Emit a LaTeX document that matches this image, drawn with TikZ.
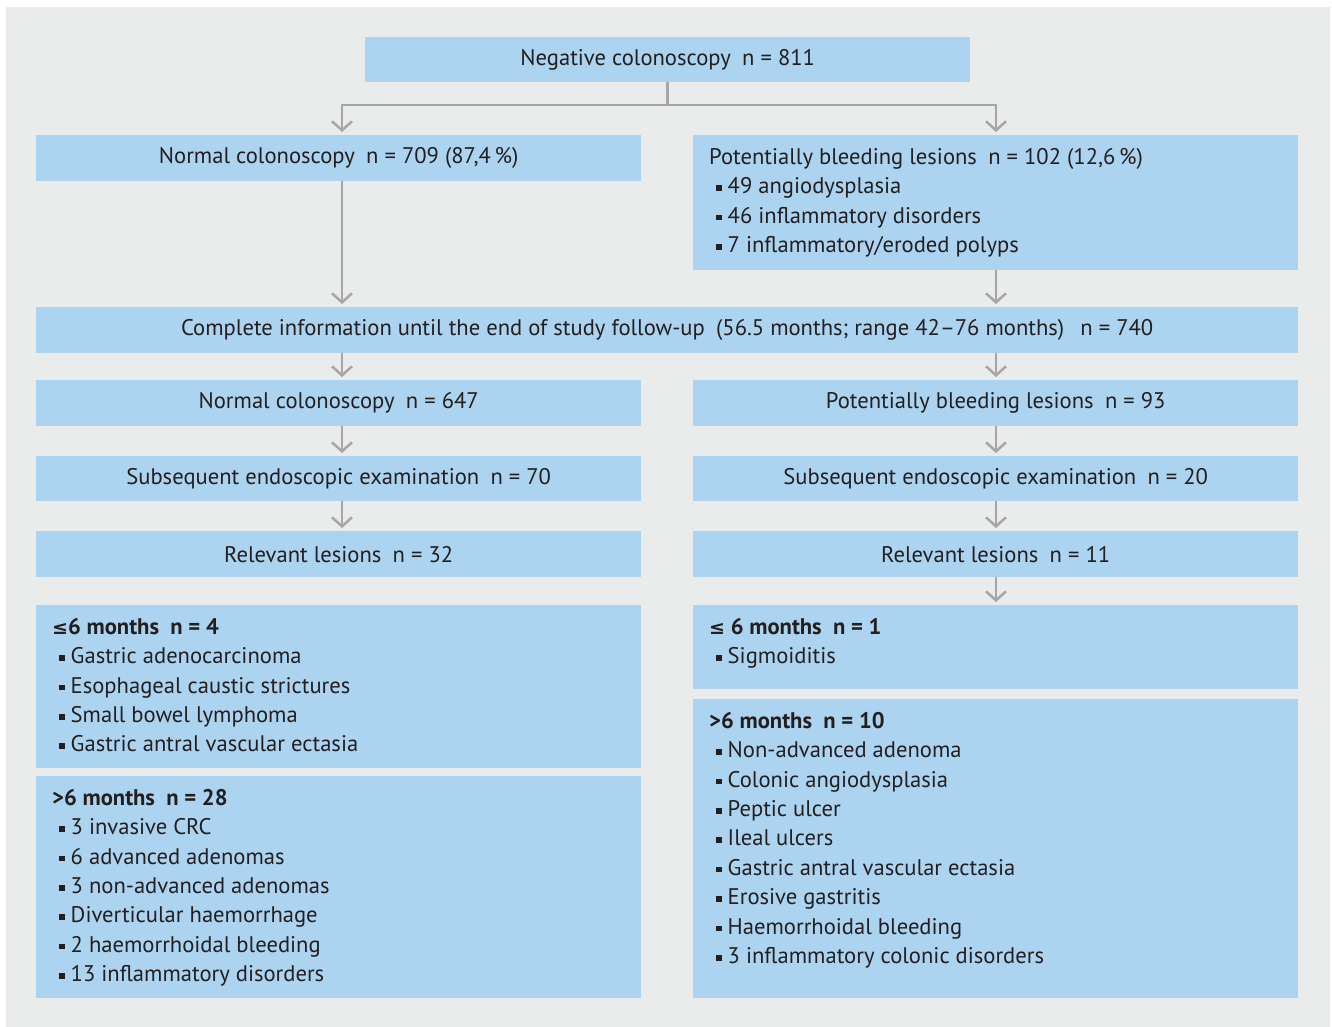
\documentclass[tikz,border=0pt]{standalone}
\usepackage{fontspec}
\setmainfont{PT Sans}
\newfontfamily\leqfont{DejaVu Sans}
\usetikzlibrary{arrows.meta,positioning}
\definecolor{boxblue}{RGB}{172,211,240}
\definecolor{panel}{RGB}{234,235,235}
\definecolor{arrowgray}{RGB}{166,166,166}
\definecolor{ink}{RGB}{35,31,32}
\tikzset{
  % ---- boxes ----
  box/.style={fill=boxblue, text=ink, inner sep=0pt, anchor=north west,
    minimum height=46pt, font=\fontsize{22.6}{29.4}\selectfont},
  half/.style={box, minimum width=605pt},
  wide/.style={box, minimum width=1262pt},
  lbox/.style={half, inner xsep=16pt, align=left},
  % ---- connectors ----
  ln/.style={draw=arrowgray, line width=2.5pt},
  arr/.style={ln, -{Straight Barb[length=9pt,width=20pt]}, shorten >=3pt},
}
\newcommand{\sq}{\hspace*{7pt}\raisebox{0.26ex}{\rule{0.25em}{0.25em}}\hspace{0.26em}}
\newcommand{\gap}{\hspace{0.5em}}
\newcommand{\lesseq}{{\leqfont\fontsize{19}{29.4}\selectfont ≤}}
\newcommand{\listtext}[2]{\parbox[c][#1pt][t]{573pt}{\raggedright\vspace*{13pt}#2}}

\begin{document}
\begin{tikzpicture}[x=1pt,y=-1pt]
\useasboundingbox (0,0) rectangle (1332,1027);
\fill[panel] (6,7) rectangle (1330,1027);

\coordinate (lc) at (342,0);
\coordinate (rc) at (996,0);

% top of the chart
\node[half, minimum height=45pt] (neg) at (365,37) {Negative colonoscopy\gap n = 811};
\node[half] (nc1) at (36,135) {Normal colonoscopy\gap n = 709 (87,4\,\%)};
\node[lbox] (pb1) at (693,135) {\listtext{135}{%
  Potentially bleeding lesions\gap n = 102 (12,6\,\%)\\
  \sq 49 angiodysplasia\\
  \sq 46 inflammatory disorders\\
  \sq 7 inflammatory/eroded polyps}};

\node[wide] (all) at (36,307)
  {Complete information until the end of study follow-up\gap (56.5 months; range 42--76 months)\hspace{0.45em} n = 740};

% two columns
\node[half] (nc2) at (36,380)  {Normal colonoscopy\gap n = 647};
\node[half] (pb2) at (693,380) {Potentially bleeding lesions\gap n = 93};
\node[half, minimum height=45pt] (se1) at (36,456)  {Subsequent endoscopic examination\gap n = 70};
\node[half, minimum height=45pt] (se2) at (693,456) {Subsequent endoscopic examination\gap n = 20};
\node[half] (rl1) at (36,531)  {Relevant lesions\gap n = 32};
\node[half] (rl2) at (693,531) {Relevant lesions\gap n = 11};

% lesions by time
\node[lbox] (la) at (36,605) {\listtext{163}{%
  \textbf{\lesseq6 months\gap n = 4}\\
  \sq Gastric adenocarcinoma\\
  \sq Esophageal caustic strictures\\
  \sq Small bowel lymphoma\\
  \sq Gastric antral vascular ectasia}};
\node[lbox] (lb) at (36,776) {\listtext{222}{%
  \textbf{>6 months\gap n = 28}\\
  \sq 3 invasive CRC\\
  \sq 6 advanced adenomas\\
  \sq 3 non-advanced adenomas\\
  \sq Diverticular haemorrhage\\
  \sq 2 haemorrhoidal bleeding\\
  \sq 13 inflammatory disorders}};
\node[lbox] (ra) at (693,605) {\listtext{84}{%
  \textbf{\lesseq\ 6 months\gap n = 1}\\
  \sq Sigmoiditis}};
\node[lbox] (rb) at (693,699) {\listtext{299}{%
  \textbf{>6 months\gap n = 10}\\
  \sq Non-advanced adenoma\\
  \sq Colonic angiodysplasia\\
  \sq Peptic ulcer\\
  \sq Ileal ulcers\\
  \sq Gastric antral vascular ectasia\\
  \sq Erosive gastritis\\
  \sq Haemorrhoidal bleeding\\
  \sq 3 inflammatory colonic disorders}};

% connectors
\draw[ln] (neg.south) -- (neg.south |- 0,105) coordinate (fork);
\draw[arr] (fork) -| (nc1.north -| lc);
\draw[arr] (fork) -| (pb1.north -| rc);
\draw[arr] (nc1.south -| lc) -- (all.north -| lc);
\draw[arr] (pb1.south -| rc) -- (all.north -| rc);
\foreach \a/\b in {all/nc2, nc2/se1, se1/rl1}
  \draw[arr] (\a.south -| lc) -- (\b.north -| lc);
\foreach \a/\b in {all/pb2, pb2/se2, se2/rl2, rl2/ra}
  \draw[arr] (\a.south -| rc) -- (\b.north -| rc);

\end{tikzpicture}
\end{document}
